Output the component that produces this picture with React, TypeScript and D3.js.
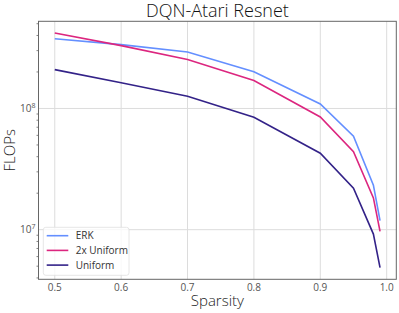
import React, { useEffect, useRef } from 'react';
import * as d3 from 'd3';

// sparsity levels and FLOPs per method
const sparsity = [0.5, 0.6, 0.7, 0.8, 0.9, 0.95, 0.98, 0.99];
const erkFlops = [3.76e8, 3.36e8, 2.92e8, 2.01e8, 1.09e8, 5.9e7, 2.33e7, 1.19e7];
const uniform2xFlops = [4.19e8, 3.3e8, 2.53e8, 1.7e8, 8.5e7, 4.4e7, 1.83e7, 9.7e6];
const uniformFlops = [2.09e8, 1.63e8, 1.26e8, 8.47e7, 4.27e7, 2.2e7, 9.2e6, 4.87e6];

const seriesNames = ['ERK', '2x Uniform', 'Uniform'];
const seriesColors = ['#648FFF', '#DC267F', '#332288'];
const xTicks = [0.5, 0.6, 0.7, 0.8, 0.9, 1.0];
const yTicks = [1e7, 1e8];

const W = 399;
const H = 313;
const FONT = "'Open Sans', 'DejaVu Sans', sans-serif";

export default function App() {
  const ref = useRef<SVGSVGElement>(null);

  useEffect(() => {
    const svg = d3.select(ref.current);
    svg.selectAll('*').remove();

    const left = 38.5, right = 396.3, top = 21.3, bottom = 279.3;
    const allValues = [...erkFlops, ...uniform2xFlops, ...uniformFlops];

    // matplotlib-style 5% margins
    const xMin = d3.min(sparsity)!, xMax = d3.max(sparsity)!;
    const xPad = (xMax - xMin) * 0.05;
    const x = d3.scaleLinear().domain([xMin - xPad, xMax + xPad]).range([left, right]);

    const lMin = Math.log10(d3.min(allValues)!), lMax = Math.log10(d3.max(allValues)!);
    const lPad = (lMax - lMin) * 0.05;
    const y = d3.scaleLog()
      .domain([Math.pow(10, lMin - lPad), Math.pow(10, lMax + lPad)])
      .range([bottom, top]);

    svg.append('rect').attr('width', W).attr('height', H).attr('fill', '#fff');

    // grid
    const grid = svg.append('g').attr('stroke', '#dcdcdc').attr('stroke-width', 1);
    xTicks.forEach(t => {
      grid.append('line').attr('x1', x(t)).attr('x2', x(t)).attr('y1', top).attr('y2', bottom);
    });
    yTicks.forEach(t => {
      grid.append('line').attr('x1', left).attr('x2', right).attr('y1', y(t)).attr('y2', y(t));
    });

    // minor ticks on the log axis
    const minor: number[] = [];
    [1e6, 1e7, 1e8].forEach(dec => {
      for (let k = 2; k <= 9; k++) {
        const v = dec * k;
        if (v > y.domain()[0] && v < y.domain()[1]) minor.push(v);
      }
    });
    svg.append('g').selectAll('line').data(minor).join('line')
      .attr('x1', left - 2).attr('x2', left)
      .attr('y1', d => y(d)).attr('y2', d => y(d))
      .attr('stroke', '#666').attr('stroke-width', 0.8);

    // lines
    const seriesData = [erkFlops, uniform2xFlops, uniformFlops];
    const line = d3.line<number>()
      .x((_, i) => x(sparsity[i]))
      .y(d => y(d));
    seriesData.forEach((vals, i) => {
      svg.append('path')
        .datum(vals)
        .attr('fill', 'none')
        .attr('stroke', seriesColors[i])
        .attr('stroke-width', 1.6)
        .attr('d', line);
    });

    // frame
    svg.append('rect')
      .attr('x', left).attr('y', top)
      .attr('width', right - left).attr('height', bottom - top)
      .attr('fill', 'none').attr('stroke', '#666').attr('stroke-width', 1);

    // x tick labels
    svg.append('g').selectAll('text').data(xTicks).join('text')
      .attr('x', d => x(d)).attr('y', 290.5)
      .attr('text-anchor', 'middle')
      .attr('font-family', FONT).attr('font-size', 10).attr('fill', '#555')
      .text(d => d3.format('.1f')(d));

    // y tick labels 10^n
    yTicks.forEach(t => {
      const txt = svg.append('text')
        .attr('x', left - 3).attr('y', y(t) + 3.5)
        .attr('text-anchor', 'end')
        .attr('font-family', FONT).attr('font-size', 10).attr('fill', '#555');
      txt.append('tspan').text('10');
      txt.append('tspan').attr('dy', -4).attr('font-size', 7).text(String(Math.round(Math.log10(t))));
    });

    // title and axis labels
    svg.append('text')
      .attr('x', (left + right) / 2).attr('y', 17.3)
      .attr('text-anchor', 'middle')
      .attr('font-family', FONT).attr('font-size', 18).attr('font-weight', 300).attr('fill', '#111')
      .text('DQN-Atari Resnet');

    svg.append('text')
      .attr('x', (left + right) / 2).attr('y', 305.5)
      .attr('text-anchor', 'middle')
      .attr('font-family', FONT).attr('font-size', 15).attr('font-weight', 300).attr('fill', '#222')
      .text('Sparsity');

    svg.append('text')
      .attr('transform', `translate(15,${(top + bottom) / 2}) rotate(-90)`)
      .attr('text-anchor', 'middle')
      .attr('font-family', FONT).attr('font-size', 15).attr('font-weight', 300).attr('fill', '#222')
      .text('FLOPs');

    // legend
    const lg = svg.append('g');
    lg.append('rect')
      .attr('x', 43.3).attr('y', 227.3).attr('width', 85.7).attr('height', 48)
      .attr('rx', 2.5)
      .attr('fill', '#fff').attr('fill-opacity', 0.8)
      .attr('stroke', '#e0e0e0').attr('stroke-width', 0.8);
    seriesNames.forEach((name, i) => {
      const ry = 235.7 + i * 14.7;
      lg.append('line')
        .attr('x1', 46.7).attr('x2', 68.3).attr('y1', ry).attr('y2', ry)
        .attr('stroke', seriesColors[i]).attr('stroke-width', 1.6);
      lg.append('text')
        .attr('x', 75.7).attr('y', ry + 3.5)
        .attr('font-family', FONT).attr('font-size', 10).attr('fill', '#333')
        .text(name);
    });
  }, []);

  return <svg ref={ref} width={W} height={H} style={{ display: 'block', position: 'absolute', left: 0, top: 0 }} />;
}
